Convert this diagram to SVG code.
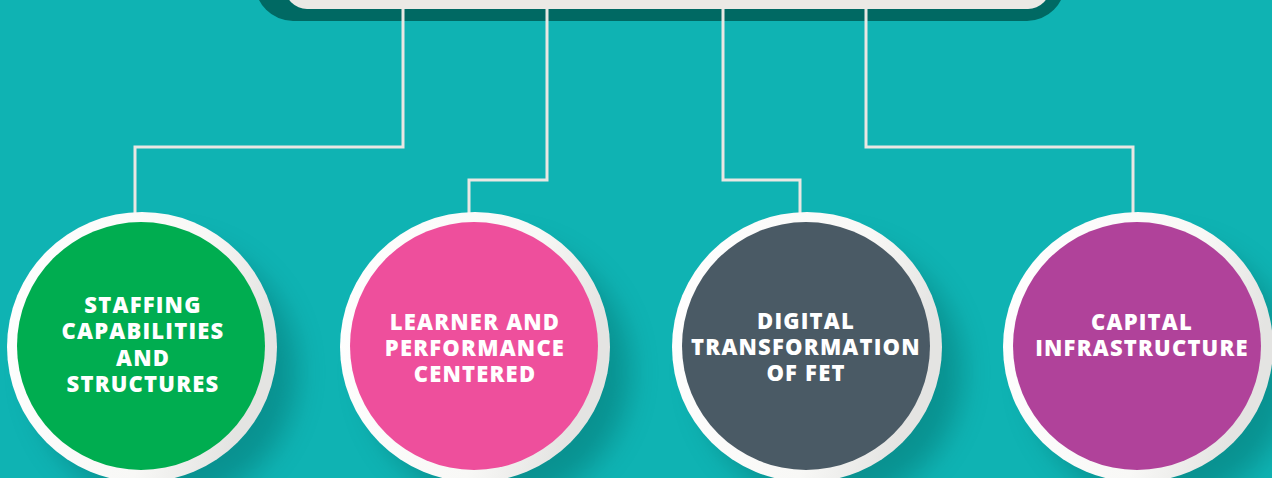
<svg xmlns="http://www.w3.org/2000/svg" width="1272" height="478" viewBox="0 0 1272 478">
<defs>
<style>
.bg{fill:#0fb3b3}
.conn{fill:none;stroke:#e9e7e3;stroke-width:3}
.ring{fill:url(#ringg)}
.lbl{font-family:"Open Sans",Lato,"Liberation Sans",sans-serif;font-weight:800;font-size:22px;letter-spacing:1.2px;fill:#ffffff;text-anchor:middle}
.sh{fill:#06615d;opacity:0.4;filter:url(#blur)}
</style>
<linearGradient id="ringg" x1="0" y1="0" x2="1" y2="0.3">
<stop offset="0" stop-color="#ffffff"/>
<stop offset="0.7" stop-color="#f8f8f6"/>
<stop offset="1" stop-color="#e4e4e2"/>
</linearGradient>
<filter id="blur" x="-50%" y="-50%" width="200%" height="200%">
<feGaussianBlur stdDeviation="14"/>
</filter>
</defs>
<rect class="bg" x="0" y="0" width="1272" height="478"/>
<g id="top-box">
<rect x="255" y="-60" width="810" height="81" rx="38" fill="#006963"/>
<rect x="285" y="-60" width="765" height="69" rx="22" fill="#ebe9e5"/>
</g>
<g id="connectors">
<path class="conn" d="M403 9 V147 H135 V214"/>
<path class="conn" d="M547 9 V180 H469 V214"/>
<path class="conn" d="M723 9 V180 H800 V214"/>
<path class="conn" d="M866 9 V147 H1133 V214"/>
</g>
<g id="node-staffing">
<circle class="sh" cx="165" cy="372" r="132"/>
<circle class="ring" cx="142" cy="347" r="135"/>
<circle cx="141" cy="346" r="124" fill="#00ad50"/>
<text class="lbl" x="143" y="313">STAFFING</text>
<text class="lbl" x="143" y="339">CAPABILITIES</text>
<text class="lbl" x="143" y="366">AND</text>
<text class="lbl" x="143" y="392">STRUCTURES</text>
</g>
<g id="node-learner">
<circle class="sh" cx="498" cy="372" r="132"/>
<circle class="ring" cx="475" cy="347" r="135"/>
<circle cx="474" cy="346" r="124" fill="#ee4f9c"/>
<text class="lbl" x="475" y="330">LEARNER AND</text>
<text class="lbl" x="475" y="356">PERFORMANCE</text>
<text class="lbl" x="475" y="382">CENTERED</text>
</g>
<g id="node-digital">
<circle class="sh" cx="830" cy="372" r="132"/>
<circle class="ring" cx="807" cy="347" r="135"/>
<circle cx="806" cy="346" r="124" fill="#4a5a65"/>
<text class="lbl" x="806" y="329">DIGITAL</text>
<text class="lbl" x="806" y="355">TRANSFORMATION</text>
<text class="lbl" x="806" y="381">OF FET</text>
</g>
<g id="node-capital">
<circle class="sh" cx="1161" cy="372" r="132"/>
<circle class="ring" cx="1138" cy="347" r="135"/>
<circle cx="1137" cy="346" r="124" fill="#b0429a"/>
<text class="lbl" x="1142" y="330">CAPITAL</text>
<text class="lbl" x="1142" y="356">INFRASTRUCTURE</text>
</g>
</svg>
